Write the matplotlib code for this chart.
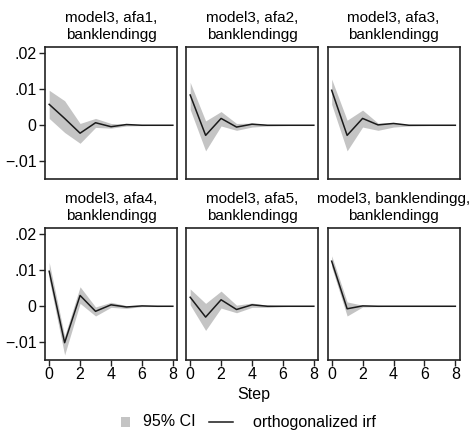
import matplotlib
matplotlib.use("Agg")
import matplotlib.pyplot as plt
from matplotlib.patches import Rectangle
from matplotlib.lines import Line2D

plt.rcParams['font.family'] = ['Liberation Sans', 'DejaVu Sans']

steps = [0, 1, 2, 3, 4, 5, 6, 7, 8]

titles = ["model3, afa1,\nbanklendingg", "model3, afa2,\nbanklendingg", "model3, afa3,\nbanklendingg",
          "model3, afa4,\nbanklendingg", "model3, afa5,\nbanklendingg", "model3, banklendingg,\nbanklendingg"]

# orthogonalized irf
irf_afa1 = [0.0058, 0.0019, -0.0022, 0.0007, -0.0004, 0.0002, 0.0, 0.0, 0.0]
irf_afa2 = [0.0084, -0.0028, 0.0019, -0.0005, 0.0003, 0.0, 0.0, 0.0, 0.0]
irf_afa3 = [0.0097, -0.0028, 0.0019, 0.0001, 0.0005, 0.0, 0.0, 0.0, 0.0]
irf_afa4 = [0.0097, -0.0101, 0.0030, -0.0014, 0.0004, -0.0002, 0.0001, 0.0, 0.0]
irf_afa5 = [0.0025, -0.0030, 0.0018, -0.0009, 0.0004, 0.0, 0.0, 0.0, 0.0]
irf_bank = [0.0125, -0.0007, 0.0001, 0.0, 0.0, 0.0, 0.0, 0.0, 0.0]

# 95% CI upper / lower
up_afa1 = [0.0097, 0.0068, 0.0005, 0.0019, 0.0005, 0.0003, 0.0001, 0.0, 0.0]
lo_afa1 = [0.0019, -0.0020, -0.0050, -0.0006, -0.0008, -0.0002, -0.0001, 0.0, 0.0]
up_afa2 = [0.0119, 0.0012, 0.0038, 0.0005, 0.0006, 0.0002, 0.0001, 0.0, 0.0]
lo_afa2 = [0.0044, -0.0071, -0.0002, -0.0014, -0.0005, -0.0002, -0.0001, 0.0, 0.0]
up_afa3 = [0.0128, 0.0014, 0.0042, 0.0006, 0.0007, 0.0002, 0.0001, 0.0, 0.0]
lo_afa3 = [0.0058, -0.0071, -0.0005, -0.0014, -0.0005, -0.0002, -0.0001, 0.0, 0.0]
up_afa4 = [0.0122, -0.0083, 0.0054, -0.0002, 0.0011, 0.0002, 0.0002, 0.0001, 0.0]
lo_afa4 = [0.0075, -0.0135, 0.0008, -0.0027, -0.0003, -0.0006, -0.0001, -0.0001, 0.0]
up_afa5 = [0.0048, 0.0008, 0.0042, 0.0003, 0.0009, 0.0003, 0.0001, 0.0, 0.0]
lo_afa5 = [0.0004, -0.0067, -0.0005, -0.0018, -0.0003, -0.0003, -0.0001, 0.0, 0.0]
up_bank = [0.0140, 0.0012, 0.0003, 0.0001, 0.0, 0.0, 0.0, 0.0, 0.0]
lo_bank = [0.0109, -0.0027, -0.0002, -0.0001, 0.0, 0.0, 0.0, 0.0, 0.0]

irfs = [irf_afa1, irf_afa2, irf_afa3, irf_afa4, irf_afa5, irf_bank]
uppers = [up_afa1, up_afa2, up_afa3, up_afa4, up_afa5, up_bank]
lowers = [lo_afa1, lo_afa2, lo_afa3, lo_afa4, lo_afa5, lo_bank]

yticks = [-0.01, 0, 0.01, 0.02]
ytick_labels = ["\u2212.01", "0", ".01", ".02"]
xticks = [0, 2, 4, 6, 8]

W, H = 474, 433
fig = plt.figure(figsize=(W / 100, H / 100), dpi=100)

band_color = '#c4c4c4'
col_left = [45, 186, 327.5]
row_top = [47, 228]
pw, ph = 132, 132

for i in range(6):
    r, c = divmod(i, 3)
    ax = fig.add_axes([col_left[c] / W, 1 - (row_top[r] + ph) / H, pw / W, ph / H])
    ax.fill_between(steps, lowers[i], uppers[i], color=band_color, linewidth=0)
    ax.plot(steps, irfs[i], color='#1a1a1a', lw=1.1)
    ax.set_xlim(-0.27, 8.27)
    ax.set_ylim(-0.0149, 0.0217)
    for s in ax.spines.values():
        s.set_linewidth(1.2)
        s.set_color('#222222')
    ax.set_title(titles[i], fontsize=11, pad=6, linespacing=1.2)
    if c == 0:
        ax.set_yticks(yticks)
        ax.set_yticklabels(ytick_labels, fontsize=11.5)
        ax.tick_params(axis='y', length=4, width=1, pad=2, colors='#222222', labelcolor='black')
    else:
        ax.set_yticks([])
    if r == 1:
        ax.set_xticks(xticks)
        ax.set_xticklabels([str(x) for x in xticks], fontsize=11.5)
        ax.tick_params(axis='x', length=4, width=1, pad=1, colors='#222222', labelcolor='black')
    else:
        ax.set_xticks([])

fig.text(254 / W, 1 - 395 / H, "Step", ha='center', va='center', fontsize=11.5)

# legend drawn in figure pixels
fig.add_artist(Rectangle((121 / W, 1 - 427 / H), 9 / W, 10 / H, transform=fig.transFigure,
                         facecolor=band_color, edgecolor='none'))
fig.text(143 / W, 1 - 422 / H, "95% CI", ha='left', va='center', fontsize=11.5)
fig.add_artist(Line2D([209 / W, 233 / W], [1 - 422 / H, 1 - 422 / H], transform=fig.transFigure,
                      color='#1a1a1a', lw=1.1))
fig.text(253 / W, 1 - 422 / H, "orthogonalized irf", ha='left', va='center', fontsize=11.5)

fig.savefig("out.png", dpi=100)
